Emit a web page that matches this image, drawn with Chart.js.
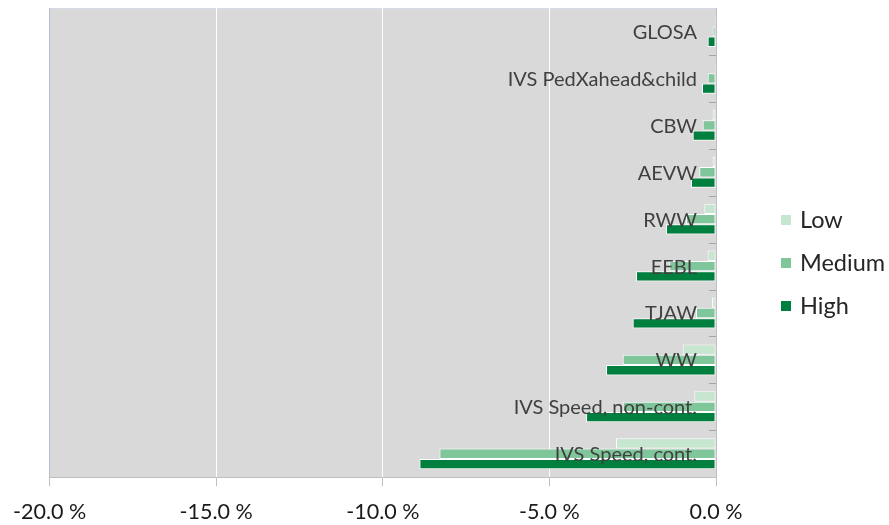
<!DOCTYPE html>
<html>
<head>
<meta charset="utf-8">
<script src="https://cdn.jsdelivr.net/npm/chart.js@4/dist/chart.umd.min.js"></script>
<style>
  html, body { margin: 0; padding: 0; background: #ffffff; }
  #wrap { width: 889px; height: 525px; position: relative; }
</style>
</head>
<body>
<div id="wrap"><canvas id="c" width="889" height="525"></canvas></div>
<script>
// ---- data ----
const categories = ['GLOSA', 'IVS PedXahead&child', 'CBW', 'AEVW', 'RWW', 'EEBL', 'TJAW', 'WW', 'IVS Speed, non-cont.', 'IVS Speed, cont.'];
const seriesNames = ['Low', 'Medium', 'High'];
const lowValues    = [-0.03, -0.03, -0.1, -0.1, -0.35, -0.25, -0.12, -1.0, -0.65, -3.0];
const mediumValues = [-0.1, -0.25, -0.4, -0.5, -0.9, -1.4, -0.6, -2.8, -2.8, -8.3];
const highValues   = [-0.25, -0.42, -0.7, -0.75, -1.5, -2.4, -2.5, -3.3, -3.9, -8.9];
const xTickValues  = [-20, -15, -10, -5, 0];

const colors = ['#c6e6d0', '#80c69b', '#007f3f'];
const FONT = 'Lato, "Open Sans", sans-serif';

const plotBg = {
  id: 'plotBg',
  beforeDraw(chart) {
    const a = chart.chartArea, ctx = chart.ctx;
    ctx.save();
    ctx.fillStyle = '#d9d9d9';
    ctx.fillRect(a.left, a.top, a.right - a.left, a.bottom - a.top);
    ctx.strokeStyle = '#d6dde8';
    ctx.lineWidth = 1;
    ctx.beginPath();
    ctx.moveTo(a.left, a.top + 0.5);
    ctx.lineTo(a.right, a.top + 0.5);
    ctx.stroke();
    ctx.restore();
  }
};

const catLabels = {
  id: 'catLabels',
  afterDatasetsDraw(chart) {
    const ctx = chart.ctx, xs = chart.scales.x, ys = chart.scales.y;
    const x0 = xs.getPixelForValue(0);
    ctx.save();
    // small tick marks on the value-zero axis at category boundaries
    ctx.strokeStyle = '#a6a6a6';
    ctx.lineWidth = 1;
    for (let i = 0; i < categories.length - 1; i++) {
      const yb = Math.round((ys.getPixelForValue(i) + ys.getPixelForValue(i + 1)) / 2) + 0.5;
      ctx.beginPath();
      ctx.moveTo(x0 - 7, yb);
      ctx.lineTo(x0, yb);
      ctx.stroke();
    }
    ctx.fillStyle = '#404040';
    ctx.font = '20px ' + FONT;
    ctx.textAlign = 'right';
    ctx.textBaseline = 'middle';
    categories.forEach((c, i) => {
      ctx.fillText(c, x0 - 19, ys.getPixelForValue(i) + 1);
    });
    ctx.restore();
  }
};

const sideLegend = {
  id: 'sideLegend',
  afterDraw(chart) {
    const ctx = chart.ctx;
    ctx.save();
    ctx.font = '23.5px ' + FONT;
    ctx.textAlign = 'left';
    ctx.textBaseline = 'middle';
    chart.data.datasets.forEach((ds, i) => {
      const yc = 220 + i * 43;
      ctx.fillStyle = ds.backgroundColor;
      ctx.fillRect(781, yc - 5, 10, 10);
      ctx.fillStyle = '#262626';
      ctx.fillText(ds.label, 800, yc);
    });
    ctx.restore();
  }
};

new Chart(document.getElementById('c'), {
  type: 'bar',
  data: {
    labels: categories,
    datasets: [
      { label: seriesNames[0], data: lowValues,    backgroundColor: colors[0] },
      { label: seriesNames[1], data: mediumValues, backgroundColor: colors[1] },
      { label: seriesNames[2], data: highValues,   backgroundColor: colors[2] }
    ]
  },
  options: {
    indexAxis: 'y',
    responsive: false,
    animation: false,
    devicePixelRatio: 1,
    layout: { padding: { left: 48, right: 173, top: 8, bottom: -13 } },
    datasets: {
      bar: {
        categoryPercentage: 0.66,
        barPercentage: 1.0,
        borderColor: '#ffffff',
        borderWidth: 1,
        borderSkipped: false
      }
    },
    plugins: {
      legend: { display: false },
      tooltip: { enabled: false }
    },
    scales: {
      x: {
        min: -20,
        max: 0,
        afterBuildTicks(scale) { scale.ticks = xTickValues.map(v => ({ value: v })); },
        ticks: {
          color: '#1a1a1a',
          font: { family: FONT, size: 21.5 },
          padding: 13,
          callback: (v) => Number(v).toFixed(1) + ' %'
        },
        grid: {
          color: (c) => {
            const v = c.tick ? c.tick.value : null;
            if (v === -20) return '#b3bdd0';
            if (v === 0) return '#bfbfbf';
            return '#ffffff';
          },
          tickColor: '#bfbfbf',
          tickLength: 9,
          lineWidth: 1
        },
        border: { display: true, color: '#bfbfbf' }
      },
      y: {
        display: false
      }
    }
  },
  plugins: [plotBg, catLabels, sideLegend]
});
</script>
</body>
</html>
